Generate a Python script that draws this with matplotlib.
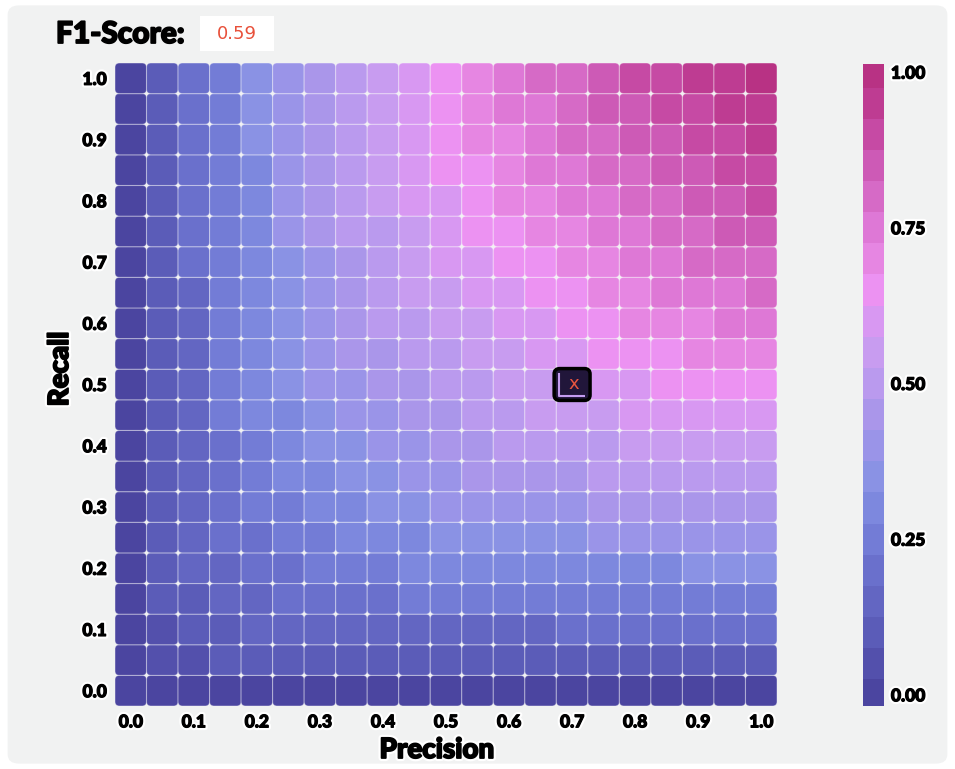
import matplotlib
matplotlib.use("Agg")
import matplotlib.pyplot as plt
import matplotlib.patheffects as pe
from matplotlib.patches import FancyBboxPatch
from matplotlib.colors import ListedColormap, BoundaryNorm
from matplotlib.cm import ScalarMappable

# --- data -------------------------------------------------------------
precision = [0.00, 0.05, 0.10, 0.15, 0.20, 0.25, 0.30, 0.35, 0.40, 0.45, 0.50,
             0.55, 0.60, 0.65, 0.70, 0.75, 0.80, 0.85, 0.90, 0.95, 1.00]
recall = [0.00, 0.05, 0.10, 0.15, 0.20, 0.25, 0.30, 0.35, 0.40, 0.45, 0.50,
          0.55, 0.60, 0.65, 0.70, 0.75, 0.80, 0.85, 0.90, 0.95, 1.00]

# F1 per cell, one row per recall value (bottom row first)
f1_grid = [
    [0, .00, .00, .00, .00, .00, .00, .00, .00, .00, .00, .00, .00, .00, .00, .00, .00, .00, .00, .00, .00],
    [0, .05, .07, .08, .08, .08, .09, .09, .09, .09, .09, .09, .09, .09, .09, .09, .09, .09, .09, .10, .10],
    [0, .07, .10, .12, .13, .14, .15, .16, .16, .16, .17, .17, .17, .17, .18, .18, .18, .18, .18, .18, .18],
    [0, .08, .12, .15, .17, .19, .20, .21, .22, .23, .23, .24, .24, .24, .25, .25, .25, .26, .26, .26, .26],
    [0, .08, .13, .17, .20, .22, .24, .25, .27, .28, .29, .29, .30, .31, .31, .32, .32, .32, .33, .33, .33],
    [0, .08, .14, .19, .22, .25, .27, .29, .31, .32, .33, .34, .35, .36, .37, .38, .38, .39, .39, .40, .40],
    [0, .09, .15, .20, .24, .27, .30, .32, .34, .36, .38, .39, .40, .41, .42, .43, .44, .44, .45, .46, .46],
    [0, .09, .16, .21, .25, .29, .32, .35, .37, .39, .41, .43, .44, .46, .47, .48, .49, .50, .50, .51, .52],
    [0, .09, .16, .22, .27, .31, .34, .37, .40, .42, .44, .46, .48, .50, .51, .52, .53, .54, .55, .56, .57],
    [0, .09, .16, .23, .28, .32, .36, .39, .42, .45, .47, .50, .51, .53, .55, .56, .58, .59, .60, .61, .62],
    [0, .09, .17, .23, .29, .33, .38, .41, .44, .47, .50, .52, .55, .57, .58, .60, .62, .63, .64, .66, .67],
    [0, .09, .17, .24, .29, .34, .39, .43, .46, .50, .52, .55, .57, .60, .62, .63, .65, .67, .68, .70, .71],
    [0, .09, .17, .24, .30, .35, .40, .44, .48, .51, .55, .57, .60, .62, .65, .67, .69, .70, .72, .74, .75],
    [0, .09, .17, .24, .31, .36, .41, .46, .50, .53, .57, .60, .62, .65, .67, .70, .72, .74, .75, .77, .79],
    [0, .09, .18, .25, .31, .37, .42, .47, .51, .55, .58, .62, .65, .67, .70, .72, .75, .77, .79, .81, .82],
    [0, .09, .18, .25, .32, .38, .43, .48, .52, .56, .60, .63, .67, .70, .72, .75, .77, .80, .82, .84, .86],
    [0, .09, .18, .25, .32, .38, .44, .49, .53, .58, .62, .65, .69, .72, .75, .77, .80, .82, .85, .87, .89],
    [0, .09, .18, .26, .32, .39, .44, .50, .54, .59, .63, .67, .70, .74, .77, .80, .82, .85, .87, .90, .92],
    [0, .09, .18, .26, .33, .39, .45, .50, .55, .60, .64, .68, .72, .75, .79, .82, .85, .87, .90, .92, .95],
    [0, .10, .18, .26, .33, .40, .46, .51, .56, .61, .66, .70, .74, .77, .81, .84, .87, .90, .92, .95, .97],
    [0, .10, .18, .26, .33, .40, .46, .52, .57, .62, .67, .71, .75, .79, .82, .86, .89, .92, .95, .97, 1.0],
]

tick_values = [0.0, 0.1, 0.2, 0.3, 0.4, 0.5, 0.6, 0.7, 0.8, 0.9, 1.0]
tick_labels = ["0.0", "0.1", "0.2", "0.3", "0.4", "0.5", "0.6", "0.7", "0.8", "0.9", "1.0"]
cbar_ticks = [0.0, 0.25, 0.5, 0.75, 1.0]
cbar_labels = ["0.00", "0.25", "0.50", "0.75", "1.00"]

marker_precision = 0.70
marker_recall = 0.50
f1_display = "0.59"

# 21 steps, 0.00 -> 1.00
step_colors = ["#4b45a0", "#5350ac", "#5b5cb8", "#6366c2", "#6a70cc", "#737cd6",
               "#7d88de", "#8a92e4", "#9a94e8", "#aa96ea", "#ba9aee", "#c89cf0",
               "#d898f2", "#ec92f2", "#e686e2", "#de78d6", "#d66ac6", "#cd5ab6",
               "#c64aa4", "#be3c92", "#b83284"]

# --- figure -----------------------------------------------------------
plt.rcParams["font.family"] = ["Lato", "DejaVu Sans"]
fig = plt.figure(figsize=(9.55, 7.69), dpi=100, facecolor="white")

# light grey panel behind everything
fig.patches.append(FancyBboxPatch((0.008, 0.007), 0.984, 0.986,
                                  boxstyle="round,pad=0,rounding_size=0.012",
                                  transform=fig.transFigure, facecolor="#f1f2f2",
                                  edgecolor="none", zorder=-10))

cmap = ListedColormap(step_colors)
bounds = [v - 0.025 for v in recall] + [1.025]
norm = BoundaryNorm(bounds, cmap.N)

ax = fig.add_axes([115 / 955, 1 - 706 / 769, 662 / 955, 643 / 769])
ax.set_facecolor("none")
half = 0.025
for j, r in enumerate(recall):
    for i, p in enumerate(precision):
        ax.add_patch(FancyBboxPatch((p - half, r - half), 2 * half, 2 * half,
                                    boxstyle="round,pad=0,rounding_size=0.007",
                                    facecolor=cmap(norm(f1_grid[j][i])),
                                    edgecolor=(1, 1, 1, 0.35), linewidth=0.8))

ax.set_xlim(-0.025, 1.025)
ax.set_ylim(-0.025, 1.025)
for s in ax.spines.values():
    s.set_visible(False)

# heavy look: white halo, then a thin black stroke to thicken the glyphs
heavy = [pe.Stroke(linewidth=4, foreground="white"),
         pe.Stroke(linewidth=0.9, foreground="black"), pe.Normal()]
heavy_big = [pe.Stroke(linewidth=4.5, foreground="white"),
             pe.Stroke(linewidth=1.3, foreground="black"), pe.Normal()]

ax.set_xticks(tick_values)
ax.set_xticklabels(tick_labels)
ax.set_yticks(tick_values)
ax.set_yticklabels(tick_labels)
ax.tick_params(length=0, labelsize=12.5, pad=6)
for lab in ax.get_xticklabels() + ax.get_yticklabels():
    lab.set_fontweight("black")
    lab.set_path_effects(heavy)

# selected point marker
mx, my = marker_precision, marker_recall
ax.add_patch(FancyBboxPatch((mx - 0.0285, my - 0.026), 0.057, 0.052,
                            boxstyle="round,pad=0,rounding_size=0.009",
                            facecolor="#21163a", edgecolor="black",
                            linewidth=2.5, zorder=5))
ax.plot([mx - 0.021, mx - 0.021, mx + 0.021], [my + 0.019, my - 0.019, my - 0.019],
        color="#c49cf0", linewidth=1.5, zorder=6, solid_capstyle="butt")
ax.text(mx + 0.002, my, "x", color="#e8553f", fontsize=13, ha="center",
        va="center", zorder=7, family="DejaVu Sans")

# colorbar
cax = fig.add_axes([863 / 955, 1 - 706 / 769, 21 / 955, 642 / 769])
cb = fig.colorbar(ScalarMappable(norm=norm, cmap=cmap), cax=cax, ticks=cbar_ticks)
cb.set_ticklabels(cbar_labels)
cb.outline.set_visible(False)
cax.minorticks_off()
cax.set_ylim(-0.018, 1.013)
cax.tick_params(which="both", length=0, labelsize=12.5, pad=5)
for lab in cax.get_yticklabels():
    lab.set_fontweight("black")
    lab.set_path_effects(heavy)

# axis titles
fig.text(437 / 955, 1 - 750 / 769, "Precision", fontsize=20, fontweight="black",
         ha="center", va="center", path_effects=heavy_big)
fig.text(60 / 955, 1 - 369 / 769, "Recall", fontsize=20, fontweight="black",
         ha="center", va="center", rotation=90, path_effects=heavy_big)

# header with score box
fig.text(56 / 955, 1 - 34 / 769, "F1-Score:", fontsize=21.5, fontweight="black",
         ha="left", va="center",
         path_effects=[pe.Stroke(linewidth=1.3, foreground="black"), pe.Normal()])
fig.patches.append(FancyBboxPatch((200 / 955, 1 - 51 / 769), 74 / 955, 35 / 769,
                                  boxstyle="square,pad=0", transform=fig.transFigure,
                                  facecolor="white", edgecolor="none"))
fig.text(237 / 955, 1 - 34 / 769, f1_display, fontsize=13, color="#e8503a",
         ha="center", va="center", family="DejaVu Sans")

fig.savefig("out.png", dpi=100, facecolor="white")
